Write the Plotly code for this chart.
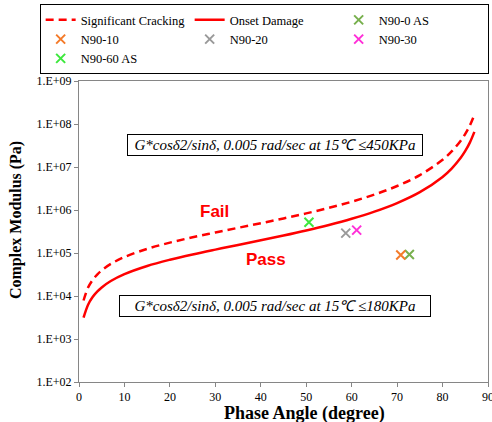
import plotly.graph_objects as go

# Phase angle (degree) for limit curves
delta = [1, 2, 3, 4, 5, 7, 10, 15, 20, 25, 30, 35, 40, 45, 50, 55, 60, 65, 70, 75, 80, 82, 84, 85, 86, 87]
# Significant Cracking (450 kPa limit), Pa
sig_crack = [7856, 15724, 23616, 31544, 39520, 55668, 80571, 124830, 174298, 231531, 300000,
             384658, 492911, 636396, 834327, 1120455, 1558846, 2283443, 3614850, 6488775,
             14696550, 23006700, 40959000, 59017500, 92254500, 164070000]
# Onset Damage (180 kPa limit), Pa
onset = [3142, 6290, 9446, 12617, 15808, 22267, 32228, 49932, 69719, 92612, 120000,
         153863, 197164, 254558, 333731, 448182, 623538, 913377, 1445940, 2595510,
         5878620, 9202680, 16383600, 23607000, 36901800, 65628000]

# Measured samples
sample_names = ["N90-0 AS", "N90-10", "N90-20", "N90-30", "N90-60 AS"]
sample_delta = [72.7, 70.8, 58.7, 61.1, 50.6]
sample_g = [92000, 90000, 290000, 340000, 520000]
sample_colors = ["#78B04E", "#F47B2A", "#9A9A9A", "#FF30D8", "#3DE83D"]

ytick_vals = [1e2, 1e3, 1e4, 1e5, 1e6, 1e7, 1e8, 1e9]
ytick_text = ["1.E+02", "1.E+03", "1.E+04", "1.E+05", "1.E+06", "1.E+07", "1.E+08", "1.E+09"]

serif = "Liberation Serif, Times New Roman, serif"

fig = go.Figure()
fig.add_trace(go.Scatter(x=delta, y=sig_crack, mode="lines", name="Significant Cracking",
                         line=dict(color="#FF0000", width=2.5, dash="8px,5px", shape="spline")))
fig.add_trace(go.Scatter(x=delta, y=onset, mode="lines", name="Onset Damage",
                         line=dict(color="#FF0000", width=2.5, shape="spline")))
for n, dx, g, c in zip(sample_names, sample_delta, sample_g, sample_colors):
    fig.add_trace(go.Scatter(x=[dx], y=[g], mode="markers", name=n,
                             marker=dict(symbol="x-thin", size=9, color=c,
                                         line=dict(color=c, width=2))))

fig.update_layout(
    width=492, height=422,
    margin=dict(l=79, r=4, t=81, b=40, autoexpand=False),
    paper_bgcolor="white", plot_bgcolor="white",
    font=dict(family=serif, size=12, color="#000000"),
    showlegend=True,
    legend=dict(orientation="h", x=-0.0962, y=1.255, xanchor="left", yanchor="top",
                bordercolor="#000000", borderwidth=1, bgcolor="white",
                font=dict(family=serif, size=12.5, color="#000000"),
                entrywidth=104, entrywidthmode="pixels", tracegroupgap=0,
                itemwidth=30),
    xaxis=dict(range=[0, 90], dtick=10, tick0=0, showgrid=False, zeroline=False,
               showline=True, linecolor="#868686", linewidth=1, mirror=True,
               ticks="outside", ticklen=4, tickcolor="#868686", ticklabeloverflow="allow",
               tickfont=dict(family=serif, size=12, color="#000000")),
    yaxis=dict(type="log", range=[2, 9], tickvals=ytick_vals, ticktext=ytick_text,
               showgrid=False, zeroline=False, showline=True, linecolor="#868686",
               linewidth=1, mirror=True, ticks="outside", ticklen=4, tickcolor="#868686",
               tickfont=dict(family=serif, size=12, color="#000000")),
)

ann_txt_hi = "<i>G*cosδ2/sinδ, 0.005 rad/sec at 15℃ ≤450KPa</i>"
ann_txt_lo = "<i>G*cosδ2/sinδ, 0.005 rad/sec at 15℃ ≤180KPa</i>"

fig.add_annotation(text=ann_txt_hi, xref="paper", yref="paper", x=0.479, y=0.788,
                   xanchor="center", yanchor="middle",
                   showarrow=False, font=dict(family=serif, size=15, color="#000000"),
                   bordercolor="#000000", borderwidth=1, bgcolor="white", borderpad=2, width=290)
fig.add_annotation(text=ann_txt_lo, xref="paper", yref="paper", x=0.479, y=0.2515,
                   xanchor="center", yanchor="middle",
                   showarrow=False, font=dict(family=serif, size=15, color="#000000"),
                   bordercolor="#000000", borderwidth=1, bgcolor="white", borderpad=2, width=306)
# arrows
fig.add_annotation(text="", x=74, y=5.69e6, xref="x", yref="y", showarrow=True, ax=-26, ay=-17,
                   arrowhead=2, arrowsize=1, arrowwidth=1, arrowcolor="#000000")
fig.add_annotation(text="", x=10.5, y=3.39e4, xref="x", yref="y", showarrow=True, ax=22, ay=22,
                   arrowhead=2, arrowsize=1, arrowwidth=1, arrowcolor="#000000")

fig.add_annotation(text="<b>Fail</b>", xref="paper", yref="paper", x=0.332, y=0.567, showarrow=False,
                   xanchor="center", yanchor="middle",
                   font=dict(family="Liberation Sans, Arial, sans-serif", size=17, color="#FF0000"))
fig.add_annotation(text="<b>Pass</b>", xref="paper", yref="paper", x=0.457, y=0.408, showarrow=False,
                   xanchor="center", yanchor="middle",
                   font=dict(family="Liberation Sans, Arial, sans-serif", size=17, color="#FF0000"))

fig.add_annotation(text="<b>Phase Angle (degree)</b>", xref="paper", yref="paper", x=0.552, y=-0.104,
                   xanchor="center", yanchor="middle",
                   showarrow=False, font=dict(family=serif, size=18, color="#000000"))
fig.add_annotation(text="<b>Complex Modulus (Pa)</b>", xref="paper", yref="paper", x=-0.1524, y=0.537,
                   xanchor="center", yanchor="middle",
                   textangle=-90, showarrow=False, font=dict(family=serif, size=16, color="#000000"))

fig.write_html("out.html")
